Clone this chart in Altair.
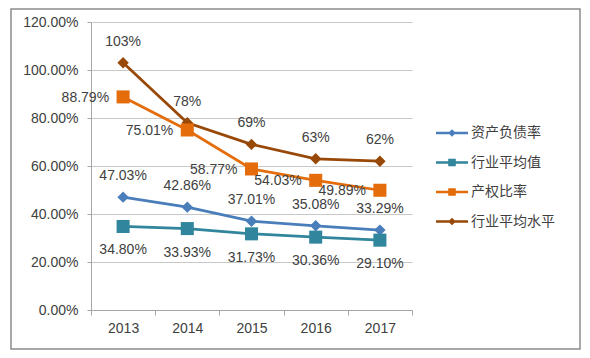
import altair as alt
import pandas as pd

years = ["2013", "2014", "2015", "2016", "2017"]
series_names = ["资产负债率", "行业平均值", "产权比率", "行业平均水平"]
asset_liability = [47.03, 42.86, 37.01, 35.08, 33.29]
industry_avg_value = [34.80, 33.93, 31.73, 30.36, 29.10]
equity_ratio = [88.79, 75.01, 58.77, 54.03, 49.89]
industry_avg_level = [103, 78, 69, 63, 62]
y_ticks = [0, 0.2, 0.4, 0.6, 0.8, 1.0, 1.2]

colors = ["#4a7ebb", "#31859c", "#e46c0a", "#984807"]

series_values = [asset_liability, industry_avg_value, equity_ratio, industry_avg_level]
rows = []
for name, vals in zip(series_names, series_values):
    for yr, v in zip(years, vals):
        rows.append({"year": yr, "series": name, "value": v / 100.0})
df = pd.DataFrame(rows)

FONT = "Liberation Sans"
CJK = "Noto Sans CJK SC"
TXT = "#404040"

x_enc = alt.X("year:O", sort=years,
              scale=alt.Scale(type="band", paddingInner=0, paddingOuter=0),
              axis=alt.Axis(title=None, labelAngle=0, tickBand="extent", tickSize=5,
                            tickColor="#a6a6a6", domainColor="#a6a6a6", grid=False,
                            labelPadding=6, labelFontSize=14, labelFont=FONT, labelColor=TXT))
y_enc = alt.Y("value:Q", scale=alt.Scale(domain=[0, 1.2], nice=False),
              axis=alt.Axis(title=None, values=y_ticks, format=".2%", grid=True,
                            gridColor="#c8c8c8", tickSize=4, tickColor="#a6a6a6",
                            domainColor="#a6a6a6", labelPadding=9, labelFontSize=14,
                            labelFont=FONT, labelColor=TXT))
color_scale = alt.Scale(domain=series_names, range=colors)

base = alt.Chart(df)

frame = alt.Chart(alt.Data(values=[{}])).mark_rect(
    fill=None, stroke="#8c8c8c", strokeWidth=1.5
).encode(x=alt.value(-80), x2=alt.value(489), y=alt.value(-13), y2=alt.value(327))

lines = base.mark_line(strokeWidth=2.75).encode(
    x=x_enc, y=y_enc,
    color=alt.Color("series:N", scale=color_scale, legend=None),
    detail="series:N")

diamonds = base.transform_filter(
    alt.FieldOneOfPredicate(field="series", oneOf=[series_names[0], series_names[3]])
).mark_point(shape="diamond", filled=True, size=130, opacity=1).encode(
    x=x_enc, y=y_enc, color=alt.Color("series:N", scale=color_scale, legend=None))

squares = base.transform_filter(
    alt.FieldOneOfPredicate(field="series", oneOf=[series_names[1], series_names[2]])
).mark_point(shape="square", filled=True, size=170, opacity=1).encode(
    x=x_enc, y=y_enc, color=alt.Color("series:N", scale=color_scale, legend=None))

line_p = "M-1.6,-0.13L1.6,-0.13L1.6,0.13L-1.6,0.13Z"
p_diamond = line_p + "M0,-0.38L0.38,0L0,0.38L-0.38,0Z"
p_square = line_p + "M-0.38,-0.38L0.38,-0.38L0.38,0.38L-0.38,0.38Z"

# legend-only layer: no rows drawn, legend entries come from the explicit scale domain
legend_layer = base.transform_filter(alt.datum.value < 0).mark_point(
    filled=True, opacity=1).encode(
    x=x_enc, y=y_enc,
    color=alt.Color("series:N", scale=color_scale, sort=series_names,
                    legend=alt.Legend(title=None, orient="none", legendX=351, legendY=101,
                                      symbolSize=400, symbolStrokeWidth=0, symbolOpacity=1,
                                      rowPadding=12.5, labelOffset=9, labelFont=CJK,
                                      labelFontSize=14, labelColor=TXT, padding=0)),
    shape=alt.Shape("series:N", sort=series_names,
                    scale=alt.Scale(domain=series_names,
                                    range=[p_diamond, p_square, p_square, p_diamond])))

def labels(name, fmt, dx=0, dy=0, align="center"):
    return base.transform_filter(alt.datum.series == name).mark_text(
        font=FONT, fontSize=14, color=TXT, dx=dx, dy=dy, align=align, baseline="middle"
    ).encode(x=x_enc, y=y_enc, text=alt.Text("value:Q", format=fmt))

t1 = labels(series_names[0], ".2%", dy=-21)
t2 = labels(series_names[1], ".2%", dy=24)
t3 = labels(series_names[2], ".2%", dx=-14, dy=1, align="right")
t4 = labels(series_names[3], ".0%", dy=-21)

chart = alt.layer(frame, lines, diamonds, squares, legend_layer, t1, t2, t3, t4).properties(
    width=321, height=288,
    autosize=alt.AutoSizeParams(type="none"),
    padding={"left": 83, "top": 14, "right": 170, "bottom": 40},
).resolve_legend(color="independent", shape="independent").configure_view(stroke=None)

chart.save("out.html", embed_options={"renderer": "svg", "actions": False})
